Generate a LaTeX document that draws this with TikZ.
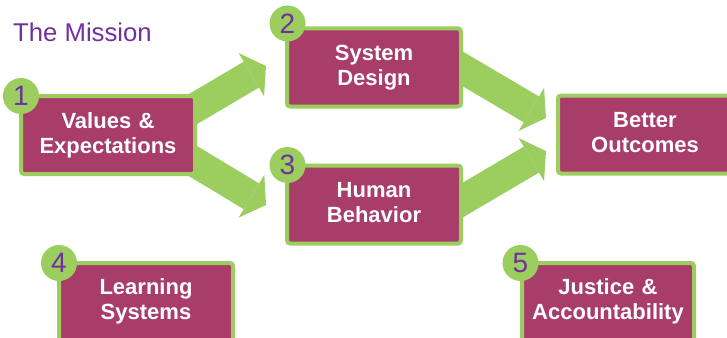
\documentclass[tikz,border=0pt]{standalone}
\usepackage{fontspec}
\setmainfont{Liberation Sans}
\usetikzlibrary{arrows.meta,calc}
\definecolor{mgreen}{RGB}{155,206,95}
\definecolor{mmag}{RGB}{167,61,104}
\definecolor{mpurp}{RGB}{112,48,160}
\pgfdeclarelayer{bg}
\pgfsetlayers{bg,main}
\tikzset{
  mbox/.style={rectangle, rounded corners=3pt, draw=mgreen, line width=4pt, fill=mmag,
    minimum width=174pt, minimum height=78pt, inner sep=0pt, outer sep=0pt},
  mtext/.style={anchor=base, inner sep=0pt, text=white, align=center, text width=178pt,
    font=\fontsize{22}{25}\selectfont\bfseries},
  numc/.style={circle, fill=mgreen, minimum size=36pt, inner sep=0pt, text=mpurp,
    font=\fontsize{28}{28}\selectfont},
  bigarrow/.style={draw=mgreen, line width=30pt,
    -{Triangle[length=17pt, width=50pt, line width=0pt]}}
}
\begin{document}
\begin{tikzpicture}[x=1pt,y=-1pt]
\useasboundingbox (0,0) rectangle (727,337);
\node[anchor=base west, inner sep=0pt, text=mpurp, font=\fontsize{25.7}{30}\selectfont] (title) at (13,41.7) {The Mission};

\node[mbox] (b1) at (108,135) {};
\node[mbox] (b2) at (374,67.5) {};
\node[mbox] (b3) at (374,204.5) {};
\node[mbox] (bo) at (645,134.5) {};
\node[mbox] (b4) at (146,302) {};
\node[mbox, minimum width=172pt] (b5) at (608,302) {};

\node[mtext] (t1) at ([yshift=-32pt]b1.north) {Values \&\\Expectations};
\node[mtext] (t2) at ([yshift=-31.5pt]b2.north) {System\\Design};
\node[mtext] (t3) at ([yshift=-31.5pt]b3.north) {Human\\Behavior};
\node[mtext] (to) at ([yshift=-31.5pt]bo.north) {Better\\Outcomes};
\node[mtext] (t4) at ([yshift=-31.5pt]b4.north) {Learning\\Systems};
\node[mtext] (t5) at ([yshift=-31.5pt]b5.north) {Justice \&\\Accountability};

\node[numc] (c1) at ([shift={(0,0)}]b1.north west) {1};
\node[numc] (c2) at ([shift={(0.5,-5)}]b2.north west) {2};
\node[numc] (c3) at ([shift={(0.5,-0.5)}]b3.north west) {3};
\node[numc] (c4) at ([shift={(0,0)}]b4.north west) {4};
\node[numc] (c5) at ([shift={(-1.5,0)}]b5.north west) {5};

\begin{pgfonlayer}{bg}
\draw[bigarrow] ($(b1.east)+(-15,-18.3)$) -- ($(b2.west)+(-21,-1.5)$);
\draw[bigarrow] ($(b1.east)+(-15,18.3)$) -- ($(b3.west)+(-21,0.5)$);
\draw[bigarrow] ($(b2.east)+(-11,-6.1)$) -- ($(bo.west)+(-12,-16.5)$);
\draw[bigarrow] ($(b3.east)+(-11,3.1)$) -- ($(bo.west)+(-12,16.5)$);
\end{pgfonlayer}
\end{tikzpicture}
\end{document}
